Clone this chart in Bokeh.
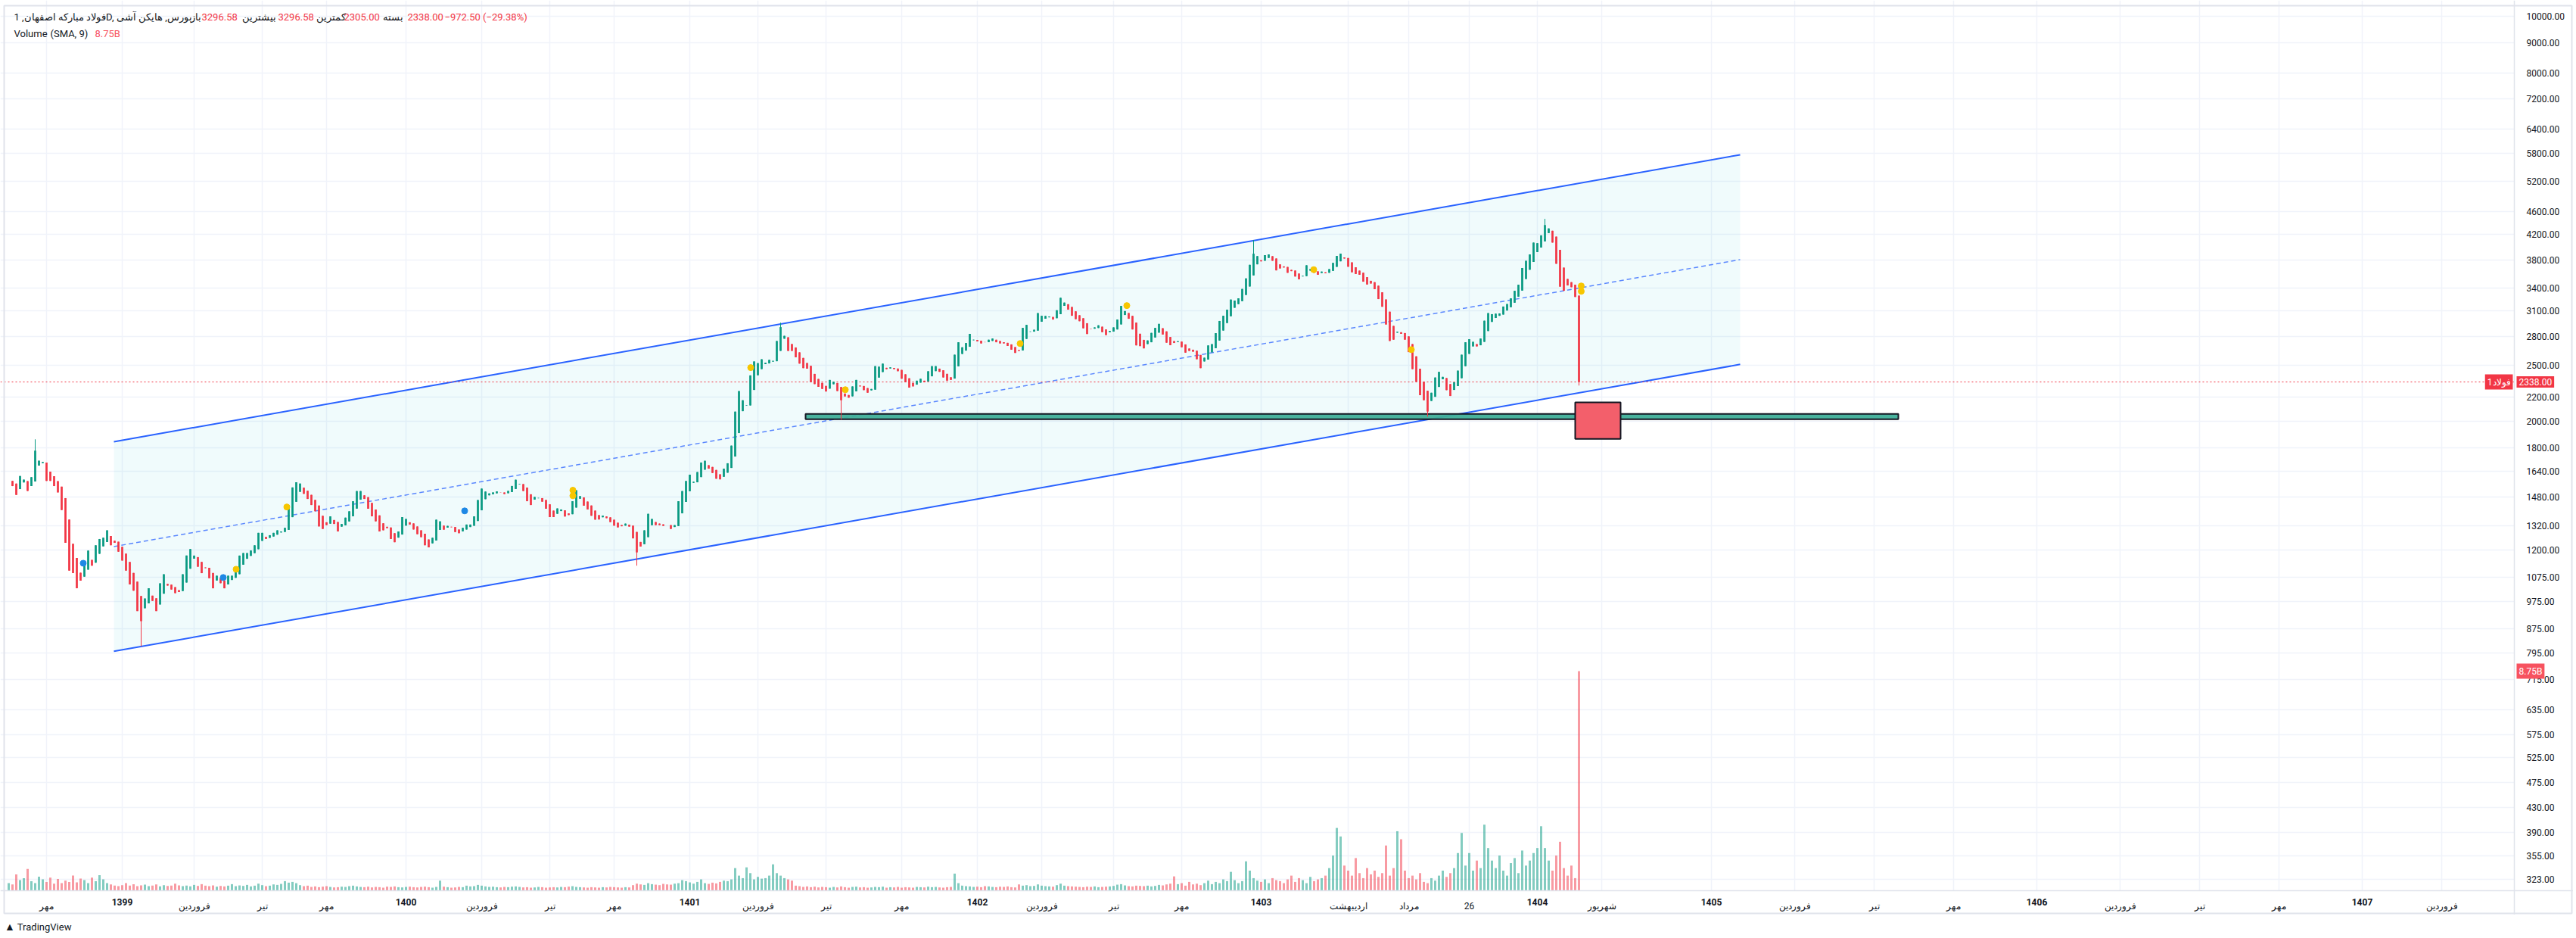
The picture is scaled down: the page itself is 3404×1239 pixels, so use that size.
import numpy as np
from bokeh.plotting import figure
from bokeh.models import (Range1d, LinearScale, FixedTicker, PrintfTickFormatter,
                          Label, ColumnDataSource, Div)
from bokeh.layouts import column
from bokeh.embed import file_html
from bokeh.resources import INLINE

# ---------------- data (Heikin Ashi closes, daily-ish bars) ----------------
close = [
    1577, 1545, 1492, 1609, 1585, 1515, 1601, 1779, 1709, 1700,
    1577, 1577, 1545, 1507, 1405, 1233, 1104, 1093, 1029, 1061,
    1138, 1196, 1126, 1221, 1252, 1258, 1296, 1221, 1233, 1190,
    1149, 1104, 1045, 1019, 940, 903, 988, 1029, 979, 940,
    1050, 1088, 1040, 1024, 1009, 1014, 1088, 1172, 1203, 1172,
    1121, 1093, 1115, 1071, 1029, 1082, 1050, 1029, 1082, 1082,
    1104, 1172, 1184, 1184, 1196, 1221, 1283, 1283, 1252, 1271,
    1283, 1296, 1290, 1309, 1433, 1537, 1569, 1561, 1498, 1468,
    1433, 1398, 1316, 1303, 1323, 1370, 1329, 1290, 1329, 1363,
    1398, 1455, 1515, 1515, 1468, 1412, 1370, 1343, 1290, 1296,
    1307, 1252, 1236, 1290, 1366, 1356, 1326, 1300, 1276, 1261,
    1221, 1211, 1258, 1352, 1343, 1299, 1319, 1312, 1287, 1281,
    1309, 1326, 1326, 1370, 1462, 1530, 1512, 1501, 1507, 1513,
    1506, 1497, 1516, 1546, 1585, 1559, 1515, 1455, 1433, 1480,
    1474, 1452, 1412, 1366, 1366, 1414, 1408, 1369, 1377, 1455,
    1520, 1485, 1429, 1408, 1373, 1352, 1353, 1374, 1360, 1339,
    1320, 1311, 1317, 1331, 1315, 1255, 1187, 1215, 1296, 1384,
    1356, 1323, 1323, 1319, 1323, 1303, 1323, 1455, 1515, 1577,
    1617, 1572, 1634, 1697, 1709, 1656, 1628, 1591, 1587, 1656,
    1692, 1815, 2078, 2255, 2174, 2131, 2400, 2537, 2520, 2559,
    2524, 2553, 2543, 2752, 2908, 2809, 2645, 2645, 2579, 2515,
    2470, 2465, 2335, 2318, 2293, 2274, 2251, 2357, 2340, 2255,
    2174, 2207, 2196, 2297, 2357, 2297, 2263, 2240, 2274, 2490,
    2485, 2515, 2460, 2478, 2460, 2440, 2368, 2335, 2286, 2297,
    2350, 2368, 2335, 2440, 2490, 2490, 2434, 2380, 2350, 2357,
    2606, 2738, 2684, 2730, 2831, 2766, 2747, 2725, 2738, 2766,
    2779, 2738, 2725, 2725, 2698, 2658, 2624, 2645, 2899, 2934,
    2858, 2878, 3075, 3042, 3040, 3033, 2997, 3110, 3268, 3206,
    3117, 3042, 3001, 2977, 2894, 2829, 2888, 2905, 2929, 2850,
    2817, 2864, 2905, 2997, 3164, 3100, 3006, 2881, 2704, 2696,
    2672, 2758, 2842, 2899, 2946, 2823, 2733, 2706, 2730, 2750,
    2684, 2627, 2645, 2637, 2559, 2470, 2575, 2704, 2718, 2839,
    2980, 3042, 3117, 3245, 3232, 3261, 3385, 3530, 3726, 3894,
    3857, 3777, 3872, 3883, 3786, 3644, 3672, 3686, 3609, 3633,
    3556, 3516, 3566, 3719, 3663, 3609, 3581, 3627, 3602, 3663,
    3755, 3860, 3895, 3820, 3697, 3616, 3592, 3581, 3484, 3445,
    3458, 3381, 3251, 3153, 2938, 2752, 2766, 2855, 2831, 2766,
    2633, 2460, 2340, 2218, 2174, 2078, 2240, 2380, 2434, 2386,
    2263, 2211, 2335, 2446, 2606, 2738, 2772, 2743, 2693, 2779,
    2983, 3075, 3062, 3068, 3071, 3156, 3188, 3261, 3360, 3442,
    3679, 3786, 3883, 4070, 4061, 4189, 4364, 4306, 4070, 3741,
    3415, 3360, 3432, 3408, 3278, 2338,
]

# volume in millions of shares
volume_m = [
    300, 250, 650, 420, 500, 870, 380, 300, 560, 450,
    350, 520, 280, 470, 300, 400, 350, 600, 330, 480,
    420, 300, 520, 380, 620, 450, 300,
    250, 200, 180, 220, 300, 200, 260, 180, 210, 240,
    180, 200, 250, 170, 220, 190, 200, 280, 210, 180,
    200, 170, 230, 190, 260, 200, 180, 210, 160, 190,
    170, 200, 260, 180, 210, 190, 230, 170, 200, 280,
    220, 180, 200, 250, 230, 270,
    380, 320, 350, 300,
    220, 180, 200, 150, 170, 140, 160, 180, 150, 130,
    140, 160, 150, 180, 200, 170, 150, 140, 160, 130,
    150, 140, 120, 160, 150, 170, 140, 130, 150, 160,
    140, 130, 150, 160, 140, 120, 150,
    400,
    160, 140, 120, 130, 150, 140, 200, 170, 180, 230,
    200, 170, 150, 160, 140, 130, 150, 140, 160, 170,
    150, 130, 140, 120, 130, 150, 140, 120, 130, 140,
    130, 150, 140, 160, 180, 150, 140, 130, 120, 140,
    130, 120, 140, 130, 150, 140, 130, 120, 140, 130,
    220, 280, 250, 230, 300, 260, 240, 220, 270, 250,
    240, 280,
    300, 420, 380, 330, 280, 350, 450, 300, 270, 320,
    290, 350, 400, 380, 450,
    900, 600, 500, 930, 700, 450, 550, 480, 500, 600,
    1050, 700, 600, 500, 450, 400,
    200, 180, 150, 170, 140, 160, 130, 150, 140, 120,
    150, 130, 170, 140, 120, 150, 160, 130, 140, 120,
    130, 150, 140, 160, 120, 140, 130, 150, 120, 140,
    130, 120, 150, 140, 130, 160, 140, 150, 130, 120, 140, 150,
    680,
    300, 200, 180, 170, 150, 160, 140, 180, 170, 150,
    140, 160, 150, 170, 140, 130, 250, 200, 220, 180,
    190, 250, 200, 180, 170, 160, 220, 280, 200, 180,
    170, 160, 150, 140, 160, 150, 170, 140, 150, 160,
    170, 190, 240, 260, 210, 180, 170, 200, 190, 180,
    200, 170, 190, 230, 210, 250, 280,
    570,
    260, 300, 200, 350, 250, 280, 220, 300, 400, 260,
    350, 300, 450, 380, 750, 420, 300, 380,
    1170, 800, 500, 400, 350, 450, 300, 500, 420, 380,
    300, 450, 600, 350, 500, 420, 300, 550, 380, 450,
    500, 600, 900,
    1400, 2500, 2160,
    1000, 800, 600, 1300, 700, 500, 900, 650, 800, 550, 700,
    1800, 600, 900, 2370, 2050,
    800, 500, 600, 450, 700, 350, 300, 500, 400, 600,
    800, 550, 700, 900, 1500,
    2300,
    1000, 1500, 800, 1200, 900,
    2630,
    1700, 1200, 900, 1400, 800, 600, 1100, 1300, 700, 1600,
    1000, 1200, 1500, 1700,
    2570,
    1700, 1200, 800, 1400, 1950, 900, 600, 1000, 500,
    8750,
]

# notable wicks
wick_high_idx = [7, 204, 329, 406]
wick_high_val = [1861, 2960, 4110, 4473]
wick_low_idx = [35, 166, 220, 375]
wick_low_val = [817, 1126, 2013, 2037]

# last bar (from legend)
last_open, last_high, last_low, last_close = 3296.58, 3296.58, 2305.00, 2338.00
change_abs, change_pct = -972.50, -29.38
last_volume_b = 8.75

# price-axis ticks
price_ticks = [10000, 9000, 8000, 7200, 6400, 5800, 5200, 4600, 4200, 3800, 3400,
               3100, 2800, 2500, 2200, 2000, 1800, 1640, 1480, 1320, 1200, 1075,
               975, 875, 795, 715, 635, 575, 525, 475, 430, 390, 355, 323]

# time-axis ticks (bar index) and labels
month_ticks = [10, 49, 67, 84, 125, 143, 160, 198, 216, 236, 273, 292, 310, 354,
               370, 386, 421, 472, 493, 514, 558, 579, 600, 643]
month_labels = ["مهر", "فروردین", "تیر", "مهر", "فروردین", "تیر", "مهر", "فروردین",
                "تیر", "مهر", "فروردین", "تیر", "مهر", "اردیبهشت", "مرداد", "26",
                "شهریور", "فروردین", "تیر", "مهر", "فروردین", "تیر", "مهر", "فروردین"]
year_ticks = [30, 105, 180, 256, 331, 404, 450, 536, 622]
year_labels = ["1399", "1400", "1401", "1402", "1403", "1404", "1405", "1406", "1407"]

# drawings (bar index, price)
channel_x = [27.8, 457.6]
channel_upper = [1843.5, 5771]
channel_lower = [800.8, 2507]
channel_mid = [1215, 3804]
zone_x = [210.6, 499.4]
zone_price = [2016, 2059]
box_x = [414, 426]
box_price = [1864, 2156]

yellow_x = [60.1, 73.5, 149.1, 149.1, 196.1, 221.1, 267.3, 295.5, 344.9, 370.7, 415.6, 415.6]
yellow_y = [1110, 1422, 1520, 1487, 2475, 2267, 2724, 3168, 3655, 2659, 3425, 3353]
blue_x = [19.7, 56.7, 120.5]
blue_y = [1137, 1074, 1400]

# ---------------- derived Heikin-Ashi arrays ----------------
assert len(close) == len(volume_m)
n = len(close)
c = np.array(close, dtype=float)
o = np.empty(n)
o[0] = c[0]
for i in range(1, n):
    o[i] = (o[i - 1] + c[i - 1]) / 2.0
o[-1] = last_open
hi = np.maximum(o, c)
lo = np.minimum(o, c)
for i, v in zip(wick_high_idx, wick_high_val):
    hi[i] = max(hi[i], v)
for i, v in zip(wick_low_idx, wick_low_val):
    lo[i] = min(lo[i], v)
hi[-1] = last_high
lo[-1] = last_low

GREEN = "#089981"
RED = "#f23645"
up = c >= o
colors = [GREEN if u else RED for u in up]
x = np.arange(n)

src = ColumnDataSource(dict(x=x, top=hi, bottom=lo, body_top=np.maximum(o, c),
                            body_bot=np.minimum(o, c), color=colors,
                            vol=np.array(volume_m) * 1e6))

# ---------------- figure (frame covers whole widget, axes at fixed locations) -------------
X0, X1 = -2.2, 677.8          # bar-index range across the widget
PANE_R = 662.2                # right edge of the price pane (bar index)
Y0, Y1 = 280.7, 10665.6       # price range across the widget (log)
PANE_B = 309.2                # bottom edge of the price pane (price)
W, H = 3400, 1208
p = figure(width=W, height=H, y_axis_type="log", y_axis_location="right",
           x_range=Range1d(X0, X1), y_range=Range1d(Y0, Y1),
           output_backend="svg", toolbar_location=None,
           min_border_left=0, min_border_top=0, min_border_right=0, min_border_bottom=0)
p.extra_y_ranges = {"vol": Range1d(-0.9655e9, 35.48e9)}
p.extra_y_scales = {"vol": LinearScale()}
p.background_fill_color = "white"
p.border_fill_color = "white"
p.outline_line_color = None

GRID = "#f0f3fa"
p.xgrid.ticker = FixedTicker(ticks=sorted(month_ticks + year_ticks))
p.ygrid.ticker = FixedTicker(ticks=price_ticks)
p.xgrid.grid_line_color = GRID
p.ygrid.grid_line_color = GRID
p.xgrid.grid_line_width = 1.5
p.ygrid.grid_line_width = 1.5

ya = p.yaxis[0]
ya.fixed_location = PANE_R
ya.ticker = FixedTicker(ticks=price_ticks)
ya.formatter = PrintfTickFormatter(format="%.2f")
ya.axis_line_color = "#e0e3eb"
ya.axis_line_width = 1.5
ya.major_tick_line_color = None
ya.minor_tick_line_color = None
ya.major_label_text_font = "Roboto"
ya.major_label_text_font_size = "12px"
ya.major_label_text_color = "#131722"
ya.major_label_standoff = 10

xa = p.xaxis[0]
xa.fixed_location = PANE_B
xa.ticker = FixedTicker(ticks=month_ticks)
xa.major_label_overrides = {t: lab for t, lab in zip(month_ticks, month_labels)}
xa.axis_line_color = "#e0e3eb"
xa.axis_line_width = 1.5
xa.major_tick_line_color = None
xa.minor_tick_line_color = None
xa.major_label_text_font = "Roboto"
xa.major_label_text_font_size = "12px"
xa.major_label_text_color = "#131722"
xa.major_label_standoff = 8

# channel
p.patch(x=[channel_x[0], channel_x[1], channel_x[1], channel_x[0]],
        y=[channel_upper[0], channel_upper[1], channel_lower[1], channel_lower[0]],
        fill_color="#00bcd4", fill_alpha=0.06, line_color=None)
p.line(channel_x, channel_upper, line_color="#2962ff", line_width=2)
p.line(channel_x, channel_lower, line_color="#2962ff", line_width=2)
p.line(channel_x, channel_mid, line_color="#2962ff", line_width=1.5, line_alpha=0.75,
       line_dash="6 4")

# volume
p.vbar(x="x", width=0.6, top="vol", bottom=0, y_range_name="vol", source=src,
       fill_color="color", line_color=None, fill_alpha=0.5)

# last price line (pane only)
p.line([X0, PANE_R], [last_close, last_close], line_color=RED, line_width=1, line_dash="2 3")

# zone rectangle
p.quad(left=zone_x[0], right=zone_x[1], bottom=zone_price[0], top=zone_price[1],
       fill_color="#3fae98", fill_alpha=0.95, line_color="#131722", line_width=2)

# candles
p.segment(x0="x", y0="bottom", x1="x", y1="top", source=src, line_color="color", line_width=1)
p.vbar(x="x", width=0.55, top="body_top", bottom="body_bot", source=src,
       fill_color="color", line_color=None)

# red box
p.quad(left=box_x[0], right=box_x[1], bottom=box_price[0], top=box_price[1],
       fill_color="#f35f6b", fill_alpha=1.0, line_color="#131722", line_width=2)

# markers
p.scatter(yellow_x, yellow_y, size=8, marker="circle", fill_color="#f7c600", line_color="#f7c600")
p.scatter(blue_x, blue_y, size=8, marker="circle", fill_color="#1e88e5", line_color="#1e88e5")

# axis strips (white, hide the grid there)
p.quad(left=PANE_R, right=X1, bottom=Y0, top=Y1, fill_color="white", line_color=None)
p.quad(left=X0, right=X1, bottom=Y0, top=PANE_B, fill_color="white", line_color=None)
# widget border
p.quad(left=-1.2, right=677.4, bottom=282.4, top=10443, fill_color=None,
       line_color="#e0e3eb", line_width=2)

# ---------------- texts ----------------
FONT = "Roboto"
DARK = "#131722"
L1, L2 = 9982, 9342


def lbl(xv, yv, text, color=DARK, **kw):
    p.add_layout(Label(x=xv, y=yv, text=text, text_color=color, text_font=FONT,
                       text_font_size=kw.pop("size", "13px"), text_baseline="middle",
                       text_align=kw.pop("align", "left"), **kw))


lbl(1.4, L1, "فولاد مبارکه اصفهان, 1D, بورس, هایکن آشی")
lbl(48.0, L1, "باز")
lbl(51.0, L1, f"{last_open:.2f}", RED)
lbl(61.6, L1, "بیشترین")
lbl(71.2, L1, f"{last_high:.2f}", RED)
lbl(81.2, L1, "کمترین")
lbl(88.6, L1, f"{last_low:.2f}", RED)
lbl(98.8, L1, "بسته")
lbl(105.4, L1, f"{last_close:.2f}", RED)
lbl(115.2, L1, f"−{abs(change_abs):.2f} (−{abs(change_pct):.2f}%)", RED)
lbl(1.4, L2, "Volume")
lbl(11.0, L2, "(SMA, 9)")
lbl(22.8, L2, f"{last_volume_b:.2f}B", "#f7525f")

# bold year labels on the time axis
for t, lab in zip(year_ticks, year_labels):
    p.add_layout(Label(x=t, y=295.4, text=lab, text_color=DARK, text_font=FONT,
                       text_font_size="12px", text_font_style="bold",
                       text_align="center", text_baseline="middle"))

# axis badges
p.add_layout(Label(x=662.8, y=last_close, text=f"{last_close:.2f}", text_color="white",
                   text_font=FONT, text_font_size="12px", text_baseline="middle",
                   background_fill_color=RED, padding=3))
p.add_layout(Label(x=661.8, y=last_close, text="فولاد1", text_color="white",
                   text_font=FONT, text_font_size="12px", text_baseline="middle",
                   text_align="right", background_fill_color=RED, padding=3))
p.add_layout(Label(x=662.8, y=740, text=f"{last_volume_b:.2f}B", text_color="white",
                   text_font=FONT, text_font_size="12px", text_baseline="middle",
                   background_fill_color="#f7525f", padding=3))

logo = Div(text='<span style="font-family:Roboto;font-size:13px;color:#131722;">'
                '<b style="font-size:14px;">&#9650;</b> TradingView</span>',
           width=300, height=22, margin=(6, 0, 0, 6))

layout = column(p, logo, spacing=0)
open("out.html", "w").write(file_html(layout, INLINE))
